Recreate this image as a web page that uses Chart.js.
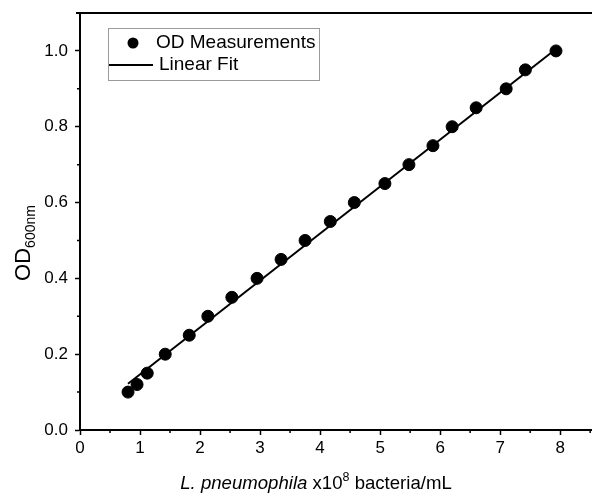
<!DOCTYPE html>
<html>
<head>
<meta charset="utf-8">
<script src="https://cdn.jsdelivr.net/npm/chart.js@4"></script>
<style>
  html, body { margin: 0; padding: 0; background: #fff; overflow: hidden; }
  #wrap { width: 592px; height: 497px; }
</style>
</head>
<body>
<div id="wrap"><canvas id="chart" width="592" height="497"></canvas></div>
<script>
  const cellCounts = [0.80, 0.95, 1.12, 1.42, 1.82, 2.13, 2.53, 2.95, 3.35, 3.75, 4.17, 4.57, 5.08, 5.48, 5.88, 6.20, 6.60, 7.10, 7.42, 7.93];
  const odValues   = [0.10, 0.12, 0.15, 0.20, 0.25, 0.30, 0.35, 0.40, 0.45, 0.50, 0.55, 0.60, 0.65, 0.70, 0.75, 0.80, 0.85, 0.90, 0.95, 1.00];
  // fit line end points
  const fitX = [0.80, 7.93];
  const fitY = [0.122, 1.005];
  // tick labels
  const xTicks = [0, 1, 2, 3, 4, 5, 6, 7, 8];
  const yTicks = [0, 0.2, 0.4, 0.6, 0.8, 1.0];
  const xMinor = [0.5, 1.5, 2.5, 3.5, 4.5, 5.5, 6.5, 7.5, 8.5];
  const yMinor = [0.1, 0.3, 0.5, 0.7, 0.9];

  const FONT = "'Liberation Sans', Arial, sans-serif";
  const INK = "#000";

  // minor ticks, top frame line, axis titles and the boxed legend
  const decor = {
    id: "decor",
    afterDraw(chart) {
      const c = chart.ctx, a = chart.chartArea;
      const xs = chart.scales.x, ys = chart.scales.y;
      c.save();
      c.strokeStyle = INK;
      c.lineWidth = 1.5;
      c.beginPath();
      xMinor.forEach((v) => {
        const px = xs.getPixelForValue(v);
        if (px > a.right) return;
        c.moveTo(px, a.bottom); c.lineTo(px, a.bottom + 3);
      });
      yMinor.forEach((v) => {
        const py = ys.getPixelForValue(v);
        c.moveTo(a.left, py); c.lineTo(a.left - 3, py);
      });
      c.stroke();

      // top frame
      c.lineWidth = 2;
      c.beginPath();
      c.moveTo(a.left - 4, a.top); c.lineTo(a.right, a.top);
      c.stroke();

      // x title
      c.fillStyle = INK;
      c.textBaseline = "alphabetic";
      const parts = [
        { t: "L. pneumophila", f: "italic 18.6px " + FONT, dy: 0 },
        { t: " x10", f: "18.6px " + FONT, dy: 0 },
        { t: "8", f: "12.5px " + FONT, dy: -8 },
        { t: " bacteria/mL", f: "18.6px " + FONT, dy: 0 },
      ];
      let total = 0;
      parts.forEach((p) => { c.font = p.f; p.w = c.measureText(p.t).width; total += p.w; });
      let x = 316 - total / 2;
      const base = 489;
      parts.forEach((p) => { c.font = p.f; c.fillText(p.t, x, base + p.dy); x += p.w; });

      // y title
      c.save();
      c.translate(30, 243);
      c.rotate(-Math.PI / 2);
      c.font = "22px " + FONT;
      const w1 = c.measureText("OD").width;
      c.font = "14px " + FONT;
      const w2 = c.measureText("600nm").width;
      const sx = -(w1 + w2) / 2;
      c.font = "22px " + FONT;
      c.fillText("OD", sx, 0);
      c.font = "14px " + FONT;
      c.fillText("600nm", sx + w1, 5);
      c.restore();

      // legend
      const L = { x: 108.5, y: 28.5, w: 211, h: 52 };
      c.lineWidth = 1;
      c.strokeStyle = "#9a9a9a";
      c.strokeRect(L.x, L.y, L.w, L.h);
      const ds = chart.data.datasets;
      c.font = "19px " + FONT;
      c.textBaseline = "middle";
      c.fillStyle = INK;
      c.beginPath();
      c.arc(133, 43, 5.5, 0, Math.PI * 2);
      c.fill();
      c.fillText(ds[0].label, 156, 43);
      c.strokeStyle = INK;
      c.lineWidth = 2;
      c.beginPath();
      c.moveTo(109, 65); c.lineTo(153, 65);
      c.stroke();
      c.fillText(ds[1].label, 159, 65);
      c.restore();
    },
  };

  new Chart(document.getElementById("chart"), {
    type: "scatter",
    data: {
      datasets: [
        {
          label: "OD Measurements",
          data: cellCounts.map((v, i) => ({ x: v, y: odValues[i] })),
          backgroundColor: INK,
          borderColor: INK,
          pointRadius: 6,
          pointHoverRadius: 6,
          order: 0,
        },
        {
          label: "Linear Fit",
          data: fitX.map((v, i) => ({ x: v, y: fitY[i] })),
          showLine: true,
          borderColor: INK,
          borderWidth: 2,
          pointRadius: 0,
          order: 1,
        },
      ],
    },
    options: {
      responsive: false,
      animation: false,
      layout: { autoPadding: false, padding: { left: 0, top: 13, right: 0, bottom: 0 } },
      plugins: { legend: { display: false }, tooltip: { enabled: false } },
      scales: {
        x: {
          type: "linear",
          min: 0,
          max: 8.53,
          afterBuildTicks: (s) => { s.ticks = xTicks.map((v) => ({ value: v })); },
          afterFit: (s) => { s.height = 67; s.paddingLeft = 0; s.paddingRight = 0; },
          grid: { drawOnChartArea: false, drawTicks: true, tickLength: 5, tickColor: INK, tickWidth: 1.5 },
          border: { color: INK, width: 2 },
          ticks: { color: INK, font: { family: FONT, size: 17 }, padding: 3, maxRotation: 0 },
        },
        y: {
          type: "linear",
          min: 0,
          max: 1.1,
          afterBuildTicks: (s) => { s.ticks = yTicks.map((v) => ({ value: v })); },
          afterFit: (s) => { s.width = 80; s.paddingTop = 0; s.paddingBottom = 0; },
          grid: { drawOnChartArea: false, drawTicks: true, tickLength: 5, tickColor: INK, tickWidth: 1.5 },
          border: { color: INK, width: 2 },
          ticks: {
            color: INK,
            font: { family: FONT, size: 17 },
            padding: 7,
            callback: (v) => Number(v).toFixed(1),
          },
        },
      },
    },
    plugins: [decor],
  });
</script>
</body>
</html>
